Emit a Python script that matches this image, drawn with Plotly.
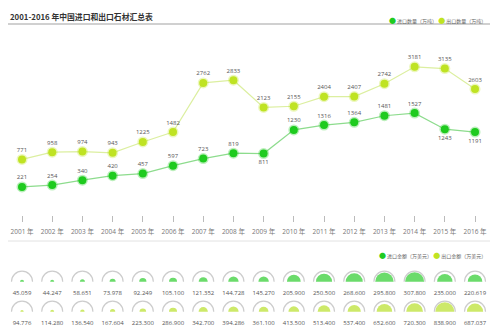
import plotly.graph_objects as go

# ---------------- data ----------------
years = [2001, 2002, 2003, 2004, 2005, 2006, 2007, 2008,
         2009, 2010, 2011, 2012, 2013, 2014, 2015, 2016]
year_labels = [f"{y} 年" for y in years]
import_qty = [221, 254, 340, 420, 457, 597, 723, 819,
              811, 1230, 1316, 1364, 1481, 1527, 1243, 1191]
export_qty = [771, 958, 974, 943, 1225, 1482, 2762, 2833,
              2123, 2155, 2404, 2407, 2742, 3181, 3135, 2603]
import_amt = [45.059, 44.247, 58.651, 73.978, 92.249, 105.100, 121.352, 144.728,
              145.270, 205.900, 250.500, 268.600, 295.800, 307.800, 235.000, 220.619]
export_amt = [94.776, 114.280, 136.540, 167.604, 223.300, 286.900, 342.700, 394.286,
              361.100, 413.500, 513.400, 537.400, 652.600, 720.300, 838.900, 687.037]
below_labels_import = [2009, 2015, 2016]

# ---------------- styling ----------------
W, H = 500, 331
FONT = "Open Sans, Noto Sans CJK SC, sans-serif"
C_IMP = "#1fcb1f"
C_EXP = "#bfe323"
TXT = "#666666"


def py(px):
    return 1 - px / H


idx = list(range(len(years)))
xr = [-0.464, 15.496]
xdom = [8 / W, 490 / W]

fig = go.Figure()

# line chart
fig.add_trace(go.Scatter(
    x=idx, y=export_qty, yaxis="y2", xaxis="x",
    mode="lines+markers+text",
    line=dict(color="#dcefa0", width=1.2),
    marker=dict(size=8, color=C_EXP, line=dict(width=3, color="rgba(191,227,35,0.30)")),
    text=[str(v) for v in export_qty], textposition="top center",
    textfont=dict(size=6, color="#555555", family=FONT),
    cliponaxis=False, showlegend=False, hoverinfo="skip"))

fig.add_trace(go.Scatter(
    x=idx, y=import_qty, yaxis="y", xaxis="x",
    mode="lines+markers+text",
    line=dict(color="#8ddc8d", width=1.2),
    marker=dict(size=8, color=C_IMP, line=dict(width=3, color="rgba(31,203,31,0.30)")),
    text=[str(v) for v in import_qty],
    textposition=["bottom center" if y in below_labels_import else "top center" for y in years],
    textfont=dict(size=6, color="#555555", family=FONT),
    cliponaxis=False, showlegend=False, hoverinfo="skip"))


# half-disc rows
def disc_row(values, color, xa, ya):
    vmax = max(values)
    sizes = [19 * (v / vmax) ** 0.8 for v in values]
    fig.add_trace(go.Scatter(
        x=idx, y=[0] * len(values), xaxis=xa, yaxis=ya, mode="markers",
        marker=dict(size=21, color="rgba(0,0,0,0)", line=dict(color="#cdcdcd", width=1.2)),
        cliponaxis=True, showlegend=False, hoverinfo="skip"))
    fig.add_trace(go.Scatter(
        x=idx, y=[0] * len(values), xaxis=xa, yaxis=ya, mode="markers",
        marker=dict(size=sizes, color=color, line=dict(width=0)),
        cliponaxis=True, showlegend=False, hoverinfo="skip"))
    fig.add_trace(go.Scatter(
        x=idx, y=[0] * len(values), xaxis=xa, yaxis=ya, mode="markers+text",
        marker=dict(size=12, color="rgba(0,0,0,0)", line=dict(width=0)),
        text=[f"{v:.3f}" for v in values], textposition="bottom center",
        textfont=dict(size=6, color="#555555", family=FONT),
        cliponaxis=False, showlegend=False, hoverinfo="skip"))


disc_row(import_amt, "#2ccc2c", "x2", "y3")
disc_row(export_amt, "#b8e02a", "x3", "y4")

fig.update_layout(
    width=W, height=H,
    margin=dict(l=0, r=0, t=0, b=0),
    paper_bgcolor="white", plot_bgcolor="rgba(0,0,0,0)",
    font=dict(family=FONT, color=TXT),
    xaxis=dict(domain=xdom, range=xr, anchor="y",
               tickmode="array", tickvals=idx, ticktext=year_labels,
               ticks="outside", ticklen=6, tickcolor="#bbbbbb", tickwidth=1,
               ticklabelstandoff=4,
               tickfont=dict(size=6.5, color="#777777", family=FONT),
               showline=False, showgrid=False, zeroline=False),
    yaxis=dict(domain=[py(215), py(40)], range=[-276, 2821], visible=False),
    yaxis2=dict(overlaying="y", range=[-677, 3880], visible=False),
    xaxis2=dict(domain=xdom, range=xr, anchor="y3", visible=False),
    yaxis3=dict(domain=[py(281.7), py(269.7)], range=[0, 1], anchor="x2", visible=False),
    xaxis3=dict(domain=xdom, range=xr, anchor="y4", visible=False),
    yaxis4=dict(domain=[py(311.7), py(299.7)], range=[0, 1], anchor="x3", visible=False),
    shapes=[
        dict(type="line", xref="paper", yref="paper", x0=8 / W, x1=490 / W,
             y0=py(24), y1=py(24), line=dict(color="#d0d0d0", width=2)),
        dict(type="line", xref="paper", yref="paper", x0=8 / W, x1=490 / W,
             y0=py(241), y1=py(241), line=dict(color="#e2e2e2", width=1)),
    ],
    annotations=[
        dict(xref="paper", yref="paper", x=8 / W, y=py(16), xanchor="left", yanchor="middle",
             text="<b>2001-2016 年中国进口和出口石材汇总表</b>", showarrow=False,
             font=dict(size=7.8, color="#333333", family="Noto Sans CJK SC, sans-serif")),
        dict(xref="paper", yref="paper", x=488 / W, y=py(20), xanchor="right", yanchor="middle",
             text=f"<span style='color:{C_IMP};font-size:7px'>●</span> 进口数量（万吨） "
                  f"<span style='color:{C_EXP};font-size:7px'>●</span> 出口数量（万吨）",
             showarrow=False, font=dict(size=5, color=TXT, family="Noto Sans CJK SC, sans-serif")),
        dict(xref="paper", yref="paper", x=488 / W, y=py(255), xanchor="right", yanchor="middle",
             text=f"<span style='color:{C_IMP};font-size:7px'>●</span> 进口金额（万美元） "
                  f"<span style='color:{C_EXP};font-size:7px'>●</span> 出口金额（万美元）",
             showarrow=False, font=dict(size=5, color=TXT, family="Noto Sans CJK SC, sans-serif")),
    ],
)

fig.write_html("out.html")
